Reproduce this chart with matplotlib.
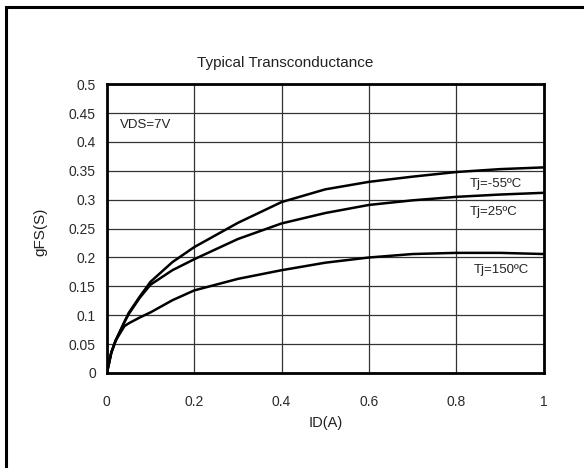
import matplotlib
matplotlib.use("Agg")
import matplotlib.pyplot as plt
from matplotlib.patches import Rectangle

plt.rcParams["font.family"] = ["Liberation Sans Narrow", "Liberation Sans", "DejaVu Sans"]

# drain current ID (A)
id_a = [0, 0.01, 0.02, 0.04, 0.05, 0.075, 0.1, 0.15, 0.2, 0.3, 0.4, 0.5, 0.6, 0.7, 0.8, 0.9, 1.0]

# transconductance gFS (S) for each junction temperature
gfs_m55 = [0, 0.035, 0.056, 0.088, 0.104, 0.132, 0.158, 0.192, 0.218, 0.26, 0.296, 0.318, 0.331, 0.340, 0.348, 0.353, 0.356]
gfs_25 = [0, 0.035, 0.056, 0.088, 0.102, 0.130, 0.153, 0.178, 0.197, 0.232, 0.259, 0.277, 0.291, 0.299, 0.305, 0.309, 0.312]
gfs_150 = [0, 0.035, 0.056, 0.081, 0.086, 0.096, 0.105, 0.126, 0.143, 0.163, 0.178, 0.191, 0.200, 0.206, 0.208, 0.208, 0.206]

x_ticks = [0, 0.2, 0.4, 0.6, 0.8, 1]
x_labels = ["0", "0.2", "0.4", "0.6", "0.8", "1"]
y_ticks = [0, 0.05, 0.1, 0.15, 0.2, 0.25, 0.3, 0.35, 0.4, 0.45, 0.5]
y_labels = ["0", "0.05", "0.1", "0.15", "0.2", "0.25", "0.3", "0.35", "0.4", "0.45", "0.5"]

fig = plt.figure(figsize=(5.84, 4.68), dpi=100)
ax = fig.add_axes([0.183, 0.203, 0.748, 0.617])

# outer frame, only left and top edges show inside the picture
fig.patches.append(Rectangle((0.010, -0.2), 1.5, 1.186, transform=fig.transFigure,
                             fill=False, edgecolor="black", linewidth=2.2))

for y in (gfs_m55, gfs_25, gfs_150):
    ax.plot(id_a, y, color="black", linewidth=1.8, solid_capstyle="butt", zorder=3)

ax.set_xlim(0, 1)
ax.set_ylim(0, 0.5)
ax.set_xticks(x_ticks)
ax.set_xticklabels(x_labels)
ax.set_yticks(y_ticks)
ax.set_yticklabels(y_labels)
ax.tick_params(length=0, labelsize=10, colors="#2a2a2a")
ax.tick_params(axis="y", pad=8)
ax.tick_params(axis="x", pad=16)
ax.grid(True, color="#333333", linewidth=0.9)
for s in ax.spines.values():
    s.set_linewidth(2.0)
    s.set_color("black")

ax.set_xlabel("ID(A)", fontsize=10.5, labelpad=5, color="#222222")
ax.set_ylabel("gFS(S)", fontsize=11, color="#222222")
ax.yaxis.set_label_coords(-0.137, 0.49)
fig.text(0.488, 0.865, "Typical Transconductance", ha="center", va="center",
         fontsize=11, color="#222222")

ax.text(0.03, 0.43, "VDS=7V", fontsize=9.5, va="center", color="#222222")
ax.text(0.83, 0.327, "Tj=-55ºC", fontsize=9.5, va="center", color="#222222")
ax.text(0.83, 0.278, "Tj=25ºC", fontsize=9.5, va="center", color="#222222")
ax.text(0.84, 0.178, "Tj=150ºC", fontsize=9.5, va="center", color="#222222")

fig.savefig("out.png", dpi=100)
